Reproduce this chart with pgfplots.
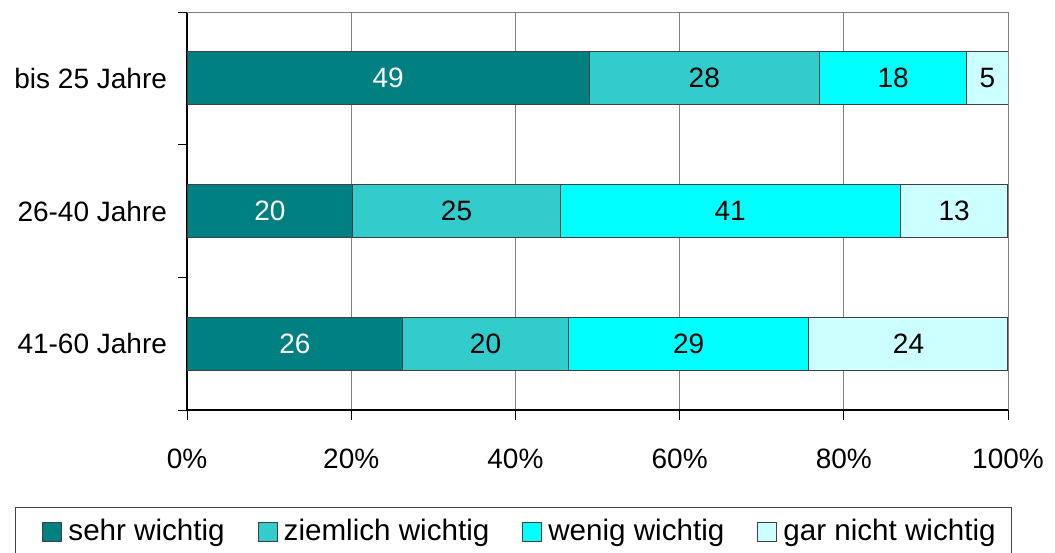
\documentclass[border=0pt]{standalone}
\usepackage{fontspec}
\setmainfont{Liberation Sans}
\usepackage{pgfplots}
\pgfplotsset{compat=1.18}

\definecolor{sehr}{HTML}{008080}
\definecolor{ziemlich}{HTML}{33CCCC}
\definecolor{wenig}{HTML}{00FFFF}
\definecolor{garnicht}{HTML}{CCFFFF}

\newcommand{\chartfont}{\fontsize{14pt}{17pt}\selectfont}
\newcommand{\legfont}{\fontsize{14.8pt}{17pt}\selectfont}

\pgfplotsset{base/.style={
    scale only axis,
    width=410.5pt, height=199pt,
    xmin=0, xmax=100, ymin=-0.5, ymax=2.5,
}}

\begin{document}
\begin{tikzpicture}
\begin{axis}[
    base,
    xbar stacked,
    bar width=0.4,
    axis x line*=bottom, axis y line*=left,
    axis line style={black, line width=0.8pt},
    xtick={0,20,40,60,80,100},
    xticklabel={\pgfmathprintnumber{\tick}\%},
    /pgf/number format/assume math mode=true,
    xmajorgrids,
    major grid style={gray, line width=0.5pt},
    tick align=outside,
    major tick length=5pt,
    minor tick length=4.5pt,
    tick style={black, line width=0.5pt},
    ytick={0,1,2},
    yticklabels={41-60 Jahre,26-40 Jahre,bis 25 Jahre},
    major y tick style={draw=none},
    minor ytick={-0.5,0.5,1.5},
    extra y ticks={2.5},
    extra y tick labels={},
    extra y tick style={grid=major, major tick length=4.5pt, major y tick style={draw=black}},
    ticklabel style={font=\chartfont},
    xticklabel style={yshift=-11pt},
    yticklabel style={xshift=-1.5pt},
    every axis plot/.append style={draw=black!75, line width=0.5pt},
    legend columns=4,
    legend style={at={(0.3977,-0.2437)}, anchor=north, draw=black!75,
        font=\legfont, inner ysep=4pt, inner xsep=6pt,
        /tikz/every even column/.append style={column sep=7pt}},
    legend image code/.code={
        \path (0pt,0pt) (18pt,0pt);
        \draw[#1, draw=black!75] (7.5pt,-4.75pt) rectangle (17pt,4.75pt);},
]
\addplot[fill=sehr] coordinates {(26.26,0) (20.20,1) (49,2)};
\addplot[fill=ziemlich] coordinates {(20.20,0) (25.25,1) (28,2)};
\addplot[fill=wenig] coordinates {(29.29,0) (41.41,1) (18,2)};
\addplot[fill=garnicht] coordinates {(24.24,0) (13.13,1) (5,2)};
\legend{sehr wichtig, ziemlich wichtig, wenig wichtig, gar nicht wichtig}
\coordinate (bbSW) at (rel axis cs:-0.2278,-0.3568);
\coordinate (bbNE) at (rel axis cs:1.0572,1.0302);
\end{axis}
% value labels, centred in each segment
\begin{axis}[
    base, hide axis, clip=false,
    point meta=explicit symbolic,
    nodes near coords,
    every node near coord/.style={font=\chartfont, anchor=center, inner sep=0pt},
]
\addplot[draw=none, mark=none, nodes near coords style={text=white}]
    coordinates {(13.13,0)[26] (10.10,1)[20] (24.5,2)[49]};
\addplot[draw=none, mark=none]
    coordinates {(36.36,0)[20] (32.83,1)[25] (63,2)[28]};
\addplot[draw=none, mark=none]
    coordinates {(61.11,0)[29] (66.16,1)[41] (86,2)[18]};
\addplot[draw=none, mark=none]
    coordinates {(87.88,0)[24] (93.43,1)[13] (97.5,2)[5]};
\end{axis}
\pgfresetboundingbox
\useasboundingbox (bbSW) rectangle (bbNE);
\end{tikzpicture}
\end{document}
